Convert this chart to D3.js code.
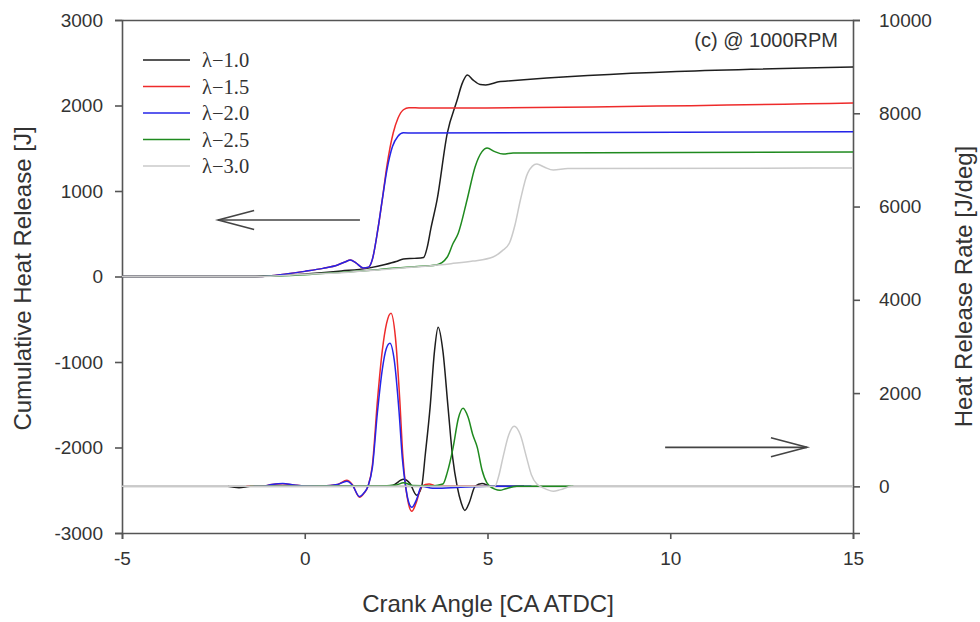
<!DOCTYPE html>
<html>
<head>
<meta charset="utf-8">
<script src="https://cdn.jsdelivr.net/npm/d3@7/dist/d3.min.js"></script>
<style>
  body { margin: 0; background: #fff; }
  svg text { font-family: "Liberation Sans", Arial, sans-serif; fill: #333; }
  .axis path, .axis line { stroke: #555; stroke-width: 1.6; }
  .axis text { font-size: 19px; }
</style>
</head>
<body>
<div id="chart"></div>
<script>
// heat release at 1000 RPM, five lambda values
// cumulative heat release on the left axis, heat release rate on the right axis

const seriesNames = ["λ−1.0", "λ−1.5", "λ−2.0", "λ−2.5", "λ−3.0"];
const seriesColors = ["#1e1e1e", "#ee2b2b", "#2424e8", "#1f8a1f", "#cacaca"];

// [crank angle, cumulative heat release J]
const cum10 = [[-5,0],[-1.35,0],[-0.5,15],[0,30],[1,65],[1.7,95],[2.2,140],[2.5,175],[2.7,205],[3.0,212],[3.25,222],[3.35,340],[3.45,560],[3.62,895],[3.9,1678],[4.17,2064],[4.3,2250],[4.45,2357],[4.6,2300],[4.8,2245],[4.95,2240],[5.35,2280],[15,2450]];
const cum15 = [[-5,0],[-1.3,0],[-0.5,30],[0,60],[0.5,95],[0.9,135],[1.1,170],[1.25,193],[1.4,160],[1.6,100],[1.75,110],[1.85,200],[2.0,550],[2.12,895],[2.25,1300],[2.42,1678],[2.55,1850],[2.7,1950],[2.85,1975],[3.2,1970],[15,2030]];
const cum20 = [[-5,0],[-1.3,0],[-0.5,30],[0,60],[0.5,95],[0.9,135],[1.1,170],[1.25,193],[1.4,160],[1.6,100],[1.75,110],[1.85,200],[2.0,550],[2.12,895],[2.25,1250],[2.4,1520],[2.55,1640],[2.7,1680],[2.95,1678],[15,1693]];
const cum25 = [[-5,0],[-1.3,0],[0,20],[1,50],[2,80],[2.5,100],[3,115],[3.6,135],[3.9,228],[4.05,380],[4.2,506],[4.44,895],[4.66,1281],[4.85,1460],[4.99,1503],[5.2,1460],[5.43,1432],[5.7,1444],[15,1456]];
const cum30 = [[-5,0],[-1.3,0],[0,25],[1,45],[2,75],[3,110],[4,150],[4.6,180],[5.15,228],[5.4,300],[5.6,392],[5.75,600],[5.9,895],[6.1,1210],[6.35,1315],[6.55,1280],[6.8,1246],[7.2,1262],[15,1269]];

// [crank angle, heat release rate J/deg]
const hrr10 = [[-2.1,0],[-1.8,-30],[-1.5,0],[-1,10],[0,0],[1,10],[2,0],[2.4,20],[2.7,150],[2.88,60],[3.06,-190],[3.2,0],[3.3,700],[3.43,1700],[3.55,2900],[3.65,3412],[3.78,2900],[3.92,1700],[4.05,600],[4.17,0],[4.28,-350],[4.38,-515],[4.5,-350],[4.66,0],[4.85,60],[5.1,0],[6,0]];
const hrr15 = [[-1.6,0],[-1.2,0],[-0.9,40],[-0.6,55],[-0.3,30],[0,10],[0.5,10],[0.9,40],[1.15,130],[1.3,40],[1.5,-236],[1.62,-150],[1.73,0],[1.85,450],[1.99,1850],[2.12,2900],[2.24,3500],[2.36,3712],[2.48,3200],[2.6,1850],[2.68,700],[2.76,0],[2.84,-380],[2.93,-536],[3.05,-350],[3.2,0],[3.4,50],[3.6,10],[4,0],[5,0]];
const hrr20 = [[-1.4,0],[-1.2,0],[-0.9,40],[-0.6,60],[-0.3,30],[0,10],[0.5,10],[0.9,40],[1.15,110],[1.3,30],[1.5,-220],[1.62,-140],[1.73,0],[1.85,400],[1.99,1600],[2.12,2500],[2.23,2950],[2.33,3069],[2.45,2700],[2.58,1600],[2.67,600],[2.76,0],[2.84,-330],[2.93,-450],[3.05,-300],[3.2,0],[3.5,-40],[4,-30],[5,0],[6.2,0]];
const hrr25 = [[-1.5,0],[0,5],[1,10],[2,10],[2.5,30],[2.7,80],[2.95,20],[3.5,10],[3.78,50],[3.9,300],[4.06,837],[4.2,1450],[4.33,1674],[4.47,1480],[4.6,1100],[4.72,837],[4.85,350],[4.98,80],[5.07,0],[5.2,-60],[5.34,-86],[5.5,-50],[5.8,0],[7.35,0]];
const hrr30 = [[-5,0],[5.2,0],[5.3,200],[5.43,644],[5.58,1100],[5.73,1288],[5.9,1100],[6.06,644],[6.2,250],[6.35,50],[6.44,0],[6.6,-60],[6.8,-107],[7.0,-70],[7.3,0],[15,0]];

const cumData = [cum10, cum15, cum20, cum25, cum30];
const hrrData = [hrr10, hrr15, hrr20, hrr25, hrr30];

const xTicks = [-5, 0, 5, 10, 15];
const leftTicks = [-3000, -2000, -1000, 0, 1000, 2000, 3000];
const rightTicks = [0, 2000, 4000, 6000, 8000, 10000];

// arrows: [from angle, to angle, value], first on the left axis, second on the right axis
const leftArrow = [1.51, -2.37, 661];
const rightArrow = [9.86, 13.74, 837];

const W = 980, H = 622;
const margin = {top: 20, right: 127, bottom: 89, left: 122};
const width = W - margin.left - margin.right;
const height = H - margin.top - margin.bottom;

const svg = d3.select("#chart")
  .append("svg")
  .attr("width", W)
  .attr("height", H)
  .append("g")
  .attr("transform", `translate(${margin.left}, ${margin.top})`);

const x = d3.scaleLinear().domain([-5, 15]).range([0, width]);
const yL = d3.scaleLinear().domain([-3000, 3000]).range([height, 0]);
const yR = d3.scaleLinear().domain([-1000, 10000]).range([height, 0]);

// zero line of the rate axis
svg.append("line")
  .attr("x1", 0).attr("x2", width)
  .attr("y1", yR(0)).attr("y2", yR(0))
  .attr("stroke", "#a0a0a0")
  .attr("stroke-width", 1.6);

// axes
svg.append("g")
  .attr("class", "axis")
  .attr("transform", `translate(0, ${height})`)
  .call(d3.axisBottom(x).tickValues(xTicks).tickSize(6).tickPadding(13).tickFormat(d => String(d)));

svg.append("g")
  .attr("class", "axis")
  .call(d3.axisLeft(yL).tickValues(leftTicks).tickSize(7).tickPadding(12).tickFormat(d => String(d)));

svg.append("g")
  .attr("class", "axis")
  .attr("transform", `translate(${width}, 0)`)
  .call(d3.axisRight(yR).tickValues(rightTicks).tickSize(7).tickPadding(19).tickFormat(d => String(d)));

svg.append("g")
  .attr("class", "axis")
  .call(d3.axisTop(x).tickValues([]).tickSizeOuter(0));

svg.selectAll(".axis .domain").attr("stroke", "#555");

// curves
const cumLine = d3.line()
  .x(d => x(d[0]))
  .y(d => yL(d[1]))
  .curve(d3.curveMonotoneX);

const hrrLine = d3.line()
  .x(d => x(d[0]))
  .y(d => yR(d[1]))
  .curve(d3.curveMonotoneX);

cumData.forEach((s, i) => {
  svg.append("path")
    .datum(s)
    .attr("fill", "none")
    .attr("stroke", seriesColors[i])
    .attr("stroke-width", 1.5)
    .attr("d", cumLine);
});

hrrData.forEach((s, i) => {
  svg.append("path")
    .datum(s)
    .attr("fill", "none")
    .attr("stroke", seriesColors[i])
    .attr("stroke-width", 1.5)
    .attr("d", hrrLine);
});

// arrows
function arrow(x1, x2, yy) {
  const dir = x2 > x1 ? -1 : 1;
  svg.append("line")
    .attr("x1", x1).attr("x2", x2).attr("y1", yy).attr("y2", yy)
    .attr("stroke", "#444").attr("stroke-width", 1.6);
  svg.append("path")
    .attr("d", `M${x2 + dir * 36},${yy - 9.5}L${x2},${yy}L${x2 + dir * 36},${yy + 9.5}`)
    .attr("fill", "none").attr("stroke", "#444").attr("stroke-width", 1.6);
}
arrow(x(leftArrow[0]), x(leftArrow[1]), yL(leftArrow[2]));
arrow(x(rightArrow[0]), x(rightArrow[1]), yR(rightArrow[2]));

// legend
const legend = svg.append("g").attr("transform", "translate(21, 40)");
seriesNames.forEach((name, i) => {
  const g = legend.append("g").attr("transform", `translate(0, ${i * 26.5})`);
  g.append("line")
    .attr("x1", 0).attr("x2", 47)
    .attr("stroke", seriesColors[i]).attr("stroke-width", 1.5);
  g.append("text")
    .attr("x", 59).attr("y", 7)
    .style("font-family", "'Liberation Serif', 'Times New Roman', serif")
    .style("font-size", "20.5px")
    .text(name);
});

// panel label
svg.append("text")
  .attr("x", width - 15)
  .attr("y", 27)
  .attr("text-anchor", "end")
  .style("font-size", "20px")
  .text("(c) @ 1000RPM");

// axis titles
svg.append("text")
  .attr("x", width / 2 + 0.5)
  .attr("y", height + 79)
  .attr("text-anchor", "middle")
  .style("font-size", "24px")
  .text("Crank Angle [CA ATDC]");

svg.append("text")
  .attr("transform", `translate(${31 - margin.left}, ${height / 2 + 2}) rotate(-90)`)
  .attr("text-anchor", "middle")
  .style("font-size", "24px")
  .text("Cumulative Heat Release [J]");

svg.append("text")
  .attr("transform", `translate(${W - margin.left - 8}, ${height / 2 + 10}) rotate(-90)`)
  .attr("text-anchor", "middle")
  .style("font-size", "24px")
  .text("Heat Release Rate [J/deg]");
</script>
</body>
</html>
